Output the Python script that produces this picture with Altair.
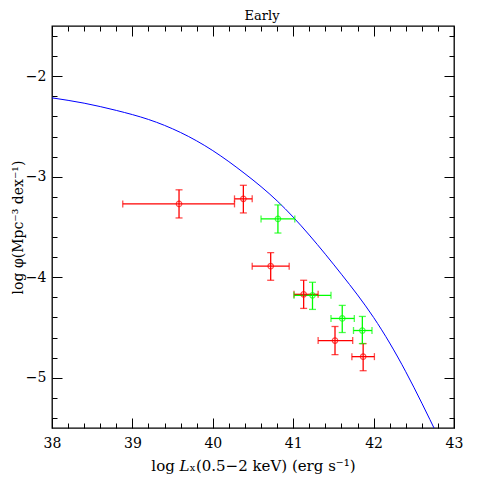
import altair as alt
import pandas as pd

# ---- data ----
red_x = [39.58, 40.38, 40.72, 41.13, 41.52, 41.87]
red_y = [-3.27, -3.22, -3.89, -4.17, -4.63, -4.79]
red_xlo = [38.88, 40.27, 40.49, 41.01, 41.31, 41.73]
red_xhi = [40.27, 40.49, 40.95, 41.31, 41.74, 42.01]
red_ylo = [-3.41, -3.36, -4.03, -4.31, -4.77, -4.93]
red_yhi = [-3.13, -3.085, -3.755, -4.03, -4.49, -4.66]

green_x = [40.81, 41.24, 41.61, 41.86]
green_y = [-3.42, -4.18, -4.41, -4.53]
green_xlo = [40.60, 41.01, 41.47, 41.75]
green_xhi = [41.02, 41.47, 41.76, 41.98]
green_ylo = [-3.56, -4.32, -4.55, -4.66]
green_yhi = [-3.28, -4.05, -4.28, -4.39]

curve_x = [38.0, 38.4, 38.8, 39.2, 39.6, 40.0, 40.4, 40.8, 41.2, 41.6, 42.0, 42.4, 42.8]
curve_y = [-2.215, -2.268, -2.34, -2.43, -2.56, -2.74, -2.97, -3.24, -3.58, -3.97,
           -4.40, -4.94, -5.58]

x_major = [38, 39, 40, 41, 42, 43]
x_minor = [38.2, 38.4, 38.6, 38.8, 39.2, 39.4, 39.6, 39.8, 40.2, 40.4, 40.6, 40.8,
           41.2, 41.4, 41.6, 41.8, 42.2, 42.4, 42.6, 42.8]
y_major = [-2, -3, -4, -5]
y_minor = [-1.6, -1.8, -2.2, -2.4, -2.6, -2.8, -3.2, -3.4, -3.6, -3.8,
           -4.2, -4.4, -4.6, -4.8, -5.2, -5.4]

x_title = "log 𝐿ₓ(0.5−2 keV) (erg s⁻¹)"
y_title = "log φ(Mpc⁻³ dex⁻¹)"
chart_title = "Early"

W = 402
H = 402
FONT = "DejaVu Serif"

pts = pd.DataFrame({
    "x": red_x + green_x,
    "y": red_y + green_y,
    "xlo": red_xlo + green_xlo,
    "xhi": red_xhi + green_xhi,
    "ylo": red_ylo + green_ylo,
    "yhi": red_yhi + green_yhi,
    "grp": ["red"] * len(red_x) + ["green"] * len(green_x),
})
curve = pd.DataFrame({"x": curve_x, "y": curve_y})

xs = alt.Scale(domain=[38, 43], nice=False, zero=False)
ys = alt.Scale(domain=[-5.5, -1.5], nice=False, zero=False)
cs = alt.Scale(domain=["red", "green"], range=["#ff0000", "#00ff00"])


def tick_axis(orient, values, size):
    return alt.Axis(orient=orient, offset=-W, values=values, labels=False, ticks=True,
                    tickSize=size, tickColor="black", tickWidth=1, domain=False,
                    grid=False, title=None)


ax_x_main = alt.Axis(orient="bottom", values=x_major, ticks=False, domain=False, grid=False,
                     title=x_title, labelFont=FONT, labelFontSize=14, labelColor="black",
                     labelPadding=8, labelFlush=False, labelOverlap=False, format="d",
                     titleFont=FONT, titleFontSize=15, titleFontWeight="normal",
                     titleColor="black", titlePadding=8)
ax_y_main = alt.Axis(orient="left", values=y_major, ticks=False, domain=False, grid=False,
                     title=y_title, labelFont=FONT, labelFontSize=14, labelColor="black",
                     labelPadding=6, labelFlush=False, labelOverlap=False,
                     labelExpr="datum.value < 0 ? '\u2212' + abs(datum.value) : datum.label",
                     titleFont=FONT, titleFontSize=14, titleFontWeight="normal",
                     titleColor="black", titleX=-27, titleBaseline="bottom",
                     titleAngle=270)

line = alt.Chart(curve).mark_line(color="#0000ff", strokeWidth=1, clip=True,
                                  interpolate="natural").encode(
    x=alt.X("x:Q", scale=xs, axis=ax_x_main),
    y=alt.Y("y:Q", scale=ys, axis=ax_y_main),
)

base = alt.Chart(pts)
col = alt.Color("grp:N", scale=cs, legend=None)

xrule = base.mark_rule(strokeWidth=1.3).encode(
    x=alt.X("xlo:Q", scale=xs, axis=tick_axis("top", x_major, 10)),
    x2="xhi:Q",
    y=alt.Y("y:Q", scale=ys, axis=tick_axis("right", y_major, 10)),
    color=col,
)
yrule = base.mark_rule(strokeWidth=1.3).encode(
    x=alt.X("x:Q", scale=xs, axis=tick_axis("top", x_minor, 5)),
    y=alt.Y("ylo:Q", scale=ys, axis=tick_axis("right", y_minor, 5)),
    y2="yhi:Q",
    color=col,
)
xcaps = base.transform_fold(["xlo", "xhi"], as_=["end", "xv"]).mark_tick(
    orient="vertical", size=7, thickness=1.3).encode(
    x=alt.X("xv:Q", scale=xs, axis=tick_axis("bottom", x_major, 10)),
    y=alt.Y("y:Q", scale=ys, axis=tick_axis("left", y_major, 10)),
    color=col,
)
ycaps = base.transform_fold(["ylo", "yhi"], as_=["end", "yv"]).mark_tick(
    orient="horizontal", size=7, thickness=1.3).encode(
    x=alt.X("x:Q", scale=xs, axis=tick_axis("bottom", x_minor, 5)),
    y=alt.Y("yv:Q", scale=ys, axis=tick_axis("left", y_minor, 5)),
    color=col,
)
points = base.mark_point(shape="circle", size=30, filled=False, strokeWidth=1.2).encode(
    x=alt.X("x:Q", scale=xs, axis=None),
    y=alt.Y("y:Q", scale=ys, axis=None),
    color=col,
)

chart = alt.layer(line, xrule, yrule, xcaps, ycaps, points).resolve_axis(
    x="independent", y="independent"
).properties(
    width=W, height=H,
    title=alt.TitleParams(chart_title, font=FONT, fontSize=13, fontWeight="normal",
                          color="black", anchor="middle", dx=9, offset=3),
    autosize=alt.AutoSizeParams(type="none"),
    padding={"left": 44, "top": 18, "right": 18, "bottom": 52},
).configure_view(stroke="black", strokeWidth=1.3)

chart.save("out.html", embed_options={"renderer": "svg", "actions": False})
